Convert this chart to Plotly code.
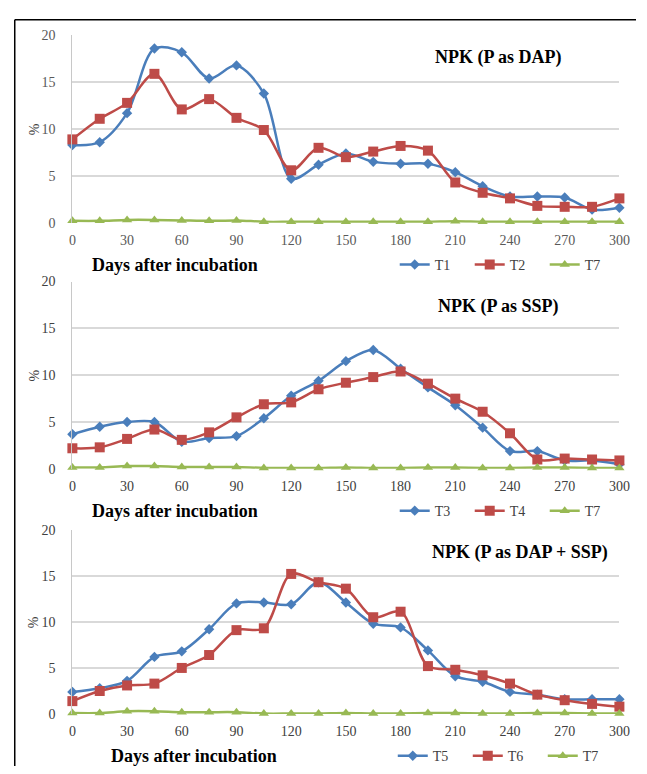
import plotly.graph_objects as go

W, H = 647, 774

days = [0, 15, 30, 45, 60, 75, 90, 105, 120, 135, 150, 165, 180, 195, 210, 225, 240, 255, 270, 285, 300]
x_ticks = [0, 30, 60, 90, 120, 150, 180, 210, 240, 270, 300]
y_ticks = [0, 5, 10, 15, 20]

# Panel 1: NPK (P as DAP)
t1 = [8.3, 8.6, 11.7, 18.6, 18.2, 15.4, 16.8, 13.8, 4.7, 6.2, 7.4, 6.5, 6.3, 6.3, 5.4, 3.9, 2.8, 2.8, 2.7, 1.4, 1.6]
t2 = [8.9, 11.1, 12.8, 15.9, 12.1, 13.2, 11.2, 9.9, 5.6, 8.0, 7.0, 7.6, 8.2, 7.7, 4.3, 3.2, 2.6, 1.8, 1.7, 1.7, 2.6]
t7_a = [0.2, 0.2, 0.3, 0.3, 0.25, 0.2, 0.25, 0.1, 0.1, 0.1, 0.1, 0.1, 0.1, 0.1, 0.15, 0.1, 0.1, 0.1, 0.1, 0.1, 0.1]

# Panel 2: NPK (P as SSP)
t3 = [3.7, 4.5, 5.0, 5.0, 2.9, 3.3, 3.5, 5.4, 7.8, 9.4, 11.5, 12.7, 10.7, 8.7, 6.8, 4.4, 1.9, 1.9, 0.9, 0.9, 0.5]
t4 = [2.2, 2.3, 3.2, 4.2, 3.1, 3.9, 5.5, 6.9, 7.1, 8.5, 9.2, 9.8, 10.4, 9.1, 7.5, 6.1, 3.8, 1.0, 1.1, 1.0, 0.9]
t7_b = [0.15, 0.15, 0.3, 0.3, 0.2, 0.2, 0.2, 0.1, 0.1, 0.1, 0.15, 0.1, 0.1, 0.15, 0.15, 0.1, 0.1, 0.15, 0.15, 0.1, 0.1]

# Panel 3: NPK (P as DAP + SSP)
t5 = [2.4, 2.8, 3.6, 6.2, 6.8, 9.2, 12.0, 12.1, 11.9, 14.3, 12.1, 9.8, 9.4, 6.9, 4.1, 3.5, 2.4, 2.1, 1.6, 1.6, 1.6]
t6 = [1.4, 2.5, 3.1, 3.3, 5.0, 6.4, 9.1, 9.3, 15.2, 14.3, 13.6, 10.5, 11.1, 5.2, 4.8, 4.2, 3.3, 2.1, 1.5, 1.1, 0.8]
t7_c = [0.1, 0.1, 0.3, 0.3, 0.2, 0.2, 0.2, 0.05, 0.05, 0.05, 0.1, 0.05, 0.05, 0.1, 0.1, 0.05, 0.05, 0.1, 0.1, 0.05, 0.05]

panel_titles = ["NPK (P as DAP)", "NPK (P as SSP)", "NPK (P as DAP + SSP)"]
panel_series = [
    [("T1", t1), ("T2", t2), ("T7", t7_a)],
    [("T3", t3), ("T4", t4), ("T7", t7_b)],
    [("T5", t5), ("T6", t6), ("T7", t7_c)],
]

BLUE, RED, GREEN = "#4A7EBB", "#BE4B48", "#98B954"
styles = [
    dict(color=BLUE, symbol="diamond", size=8),
    dict(color=RED, symbol="square", size=10),
    dict(color=GREEN, symbol="triangle-up", size=9),
]

SERIF = "Liberation Serif"

def px_x(p):
    return p / W

def px_y(p):
    return 1 - p / H

# pixel positions of y=0 and y=20 for each panel
panel_px = [(220, 29), (471, 280), (721, 533)]
title_px = [(506, 52), (506, 305), (528, 556)]
xlabel_px = [(88, 263), (88, 514), (107, 764)]
legend_px = [(400, 263), (400, 514), (398, 764)]
x_dom = [px_x(70), px_x(630)]

fig = go.Figure()
layout = dict(
    width=W, height=H,
    margin=dict(l=0, r=0, t=0, b=0),
    paper_bgcolor="white", plot_bgcolor="white",
    showlegend=True,
)
annotations = []

for i in range(3):
    n = "" if i == 0 else str(i + 1)
    legend_name = "legend" if i == 0 else f"legend{i + 1}"
    tick_col = "#595959" if i == 0 else "#404040"
    for (name, vals), st in zip(panel_series[i], styles):
        fig.add_trace(go.Scatter(
            x=days, y=vals, name=name, mode="lines+markers",
            line=dict(color=st["color"], width=2.5, shape="spline", smoothing=0.9),
            marker=dict(color=st["color"], symbol=st["symbol"], size=st["size"]),
            xaxis="x" + n, yaxis="y" + n, legend=legend_name, cliponaxis=False,
        ))
    y0, y20 = panel_px[i]
    layout["xaxis" + n] = dict(
        domain=x_dom, range=[0, 300], tickvals=x_ticks, anchor="y" + n,
        showgrid=False, zeroline=False, showline=False, ticks="",
        ticklabelstandoff=7,
        tickfont=dict(family=SERIF, size=14, color=tick_col),
    )
    layout["yaxis" + n] = dict(
        domain=[px_y(y0), px_y(y20)], range=[0, 20], tickvals=y_ticks, anchor="x" + n,
        showgrid=True, gridcolor="#D9D9D9", gridwidth=1.5, zeroline=False,
        showline=True, linecolor="#C8C8C8", linewidth=1, ticks="",
        ticklabelstandoff=13,
        tickfont=dict(family=SERIF, size=14, color=tick_col),
    )
    layout[legend_name] = dict(
        orientation="h", x=px_x(legend_px[i][0]), y=px_y(legend_px[i][1]),
        xanchor="left", yanchor="middle", bgcolor="rgba(0,0,0,0)",
        font=dict(family=SERIF, size=14, color="#404040"),
        entrywidth=30, entrywidthmode="pixels", itemwidth=30,
        traceorder="normal",
    )
    tx, ty = title_px[i]
    annotations.append(dict(
        text="<b>" + panel_titles[i] + "</b>", x=px_x(tx), y=px_y(ty),
        xref="paper", yref="paper", showarrow=False, xanchor="center", yanchor="middle",
        font=dict(family=SERIF, size=18, color="#000000"),
    ))
    lx, ly = xlabel_px[i]
    annotations.append(dict(
        text="<b>Days after incubation</b>", x=px_x(lx), y=px_y(ly),
        xref="paper", yref="paper", showarrow=False, xanchor="left", yanchor="middle",
        font=dict(family=SERIF, size=18, color="#000000"),
    ))
    annotations.append(dict(
        text="%", x=px_x(31), y=px_y((y0 + y20) / 2),
        xref="paper", yref="paper", showarrow=False, textangle=-90,
        xanchor="center", yanchor="middle",
        font=dict(family=SERIF, size=14, color="#404040"),
    ))

layout["annotations"] = annotations
layout["shapes"] = [
    dict(type="line", xref="paper", yref="paper", x0=px_x(11), x1=1, y0=px_y(13), y1=px_y(13),
         line=dict(color="black", width=1.5)),
    dict(type="line", xref="paper", yref="paper", x0=px_x(11), x1=px_x(11), y0=px_y(13), y1=0,
         line=dict(color="black", width=1.5)),
]
fig.update_layout(**layout)
fig.write_html(
    "out.html",
    config={"displayModeBar": False},
    post_script="document.body.style.margin='0';document.body.style.overflow='hidden';",
)
